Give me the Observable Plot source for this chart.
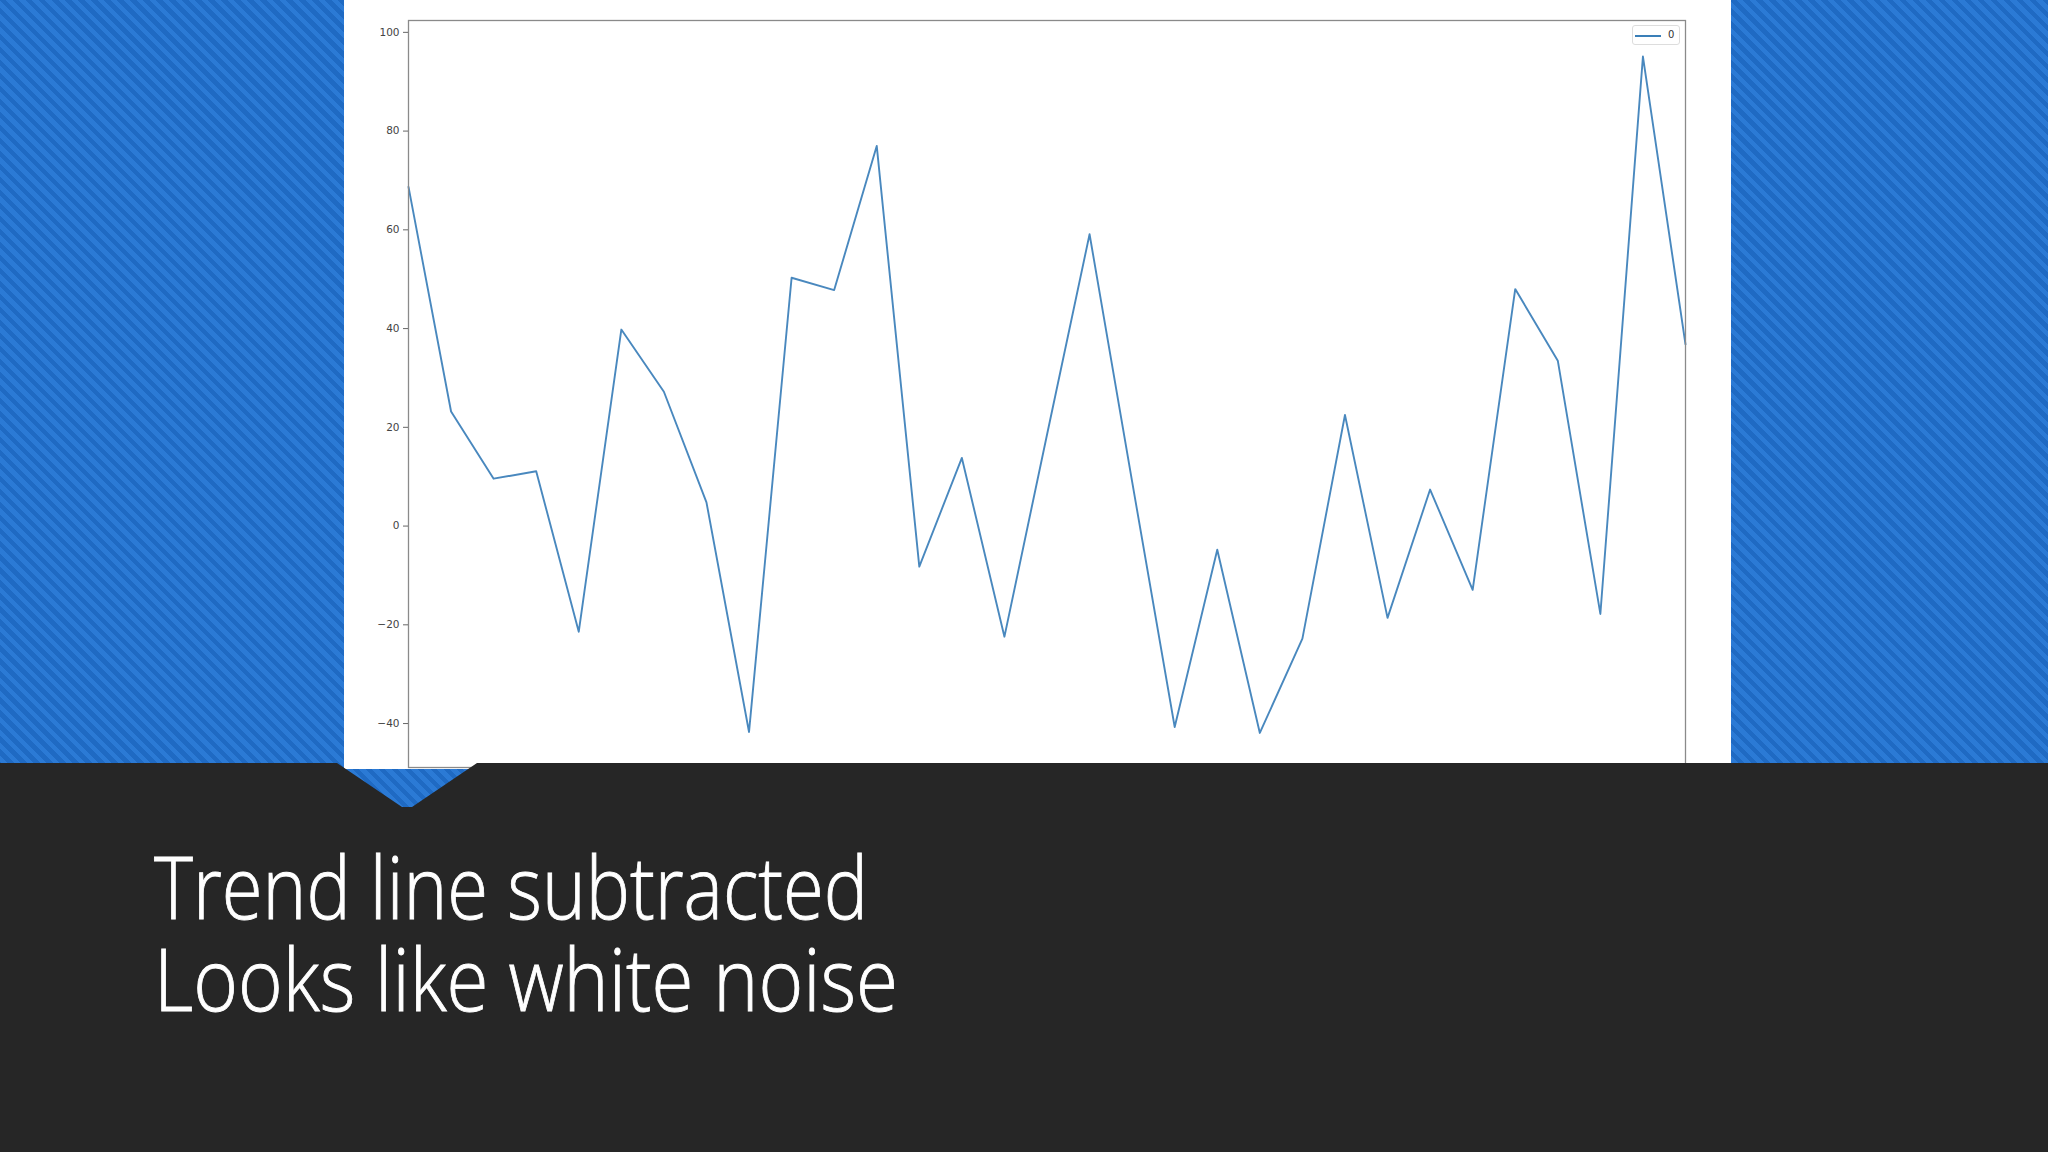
<!DOCTYPE html>
<html>
<head>
<meta charset="utf-8">
<script src="https://cdn.jsdelivr.net/npm/d3@7"></script>
<script src="https://cdn.jsdelivr.net/npm/@observablehq/plot@0.6"></script>
<style>
  html, body { margin: 0; padding: 0; }
  body { width: 2048px; height: 1152px; overflow: hidden; position: relative;
    background: repeating-linear-gradient(45deg, #2b7ad5 0px, #2b7ad5 4.6px, #1f6ac3 4.6px, #1f6ac3 9.2px); }
  #panel { position: absolute; left: 344px; top: 0; width: 1387px; height: 769px; background: #fff; }
  #band { position: absolute; left: 0; top: 0; width: 2048px; height: 1152px; background: #262626;
    clip-path: polygon(0px 763px, 337px 763px, 402px 807px, 412px 807px, 477px 763px, 2048px 763px, 2048px 1152px, 0px 1152px); }
  #legend { position: absolute; left: 1288px; top: 25px; width: 48px; height: 20px; box-sizing: border-box;
    border: 1px solid #ddd; border-radius: 3px; background: #fff; font: 10px "DejaVu Sans", sans-serif; color: #333; }
  #legend .sw { position: absolute; left: 2px; top: 9px; width: 26px; height: 1.8px; background: #3a7fb8; }
  #legend .lb { position: absolute; left: 35px; top: 3px; }
  .tline { position: absolute; left: 154px; white-space: nowrap; color: #fff;
    font-family: "Open Sans", "Noto Sans", sans-serif; font-weight: 300; font-size: 86px; line-height: 92px; height: 92px;
    -webkit-text-stroke: 0.9px #fff; transform-origin: 0 0; }
</style>
</head>
<body>
<div id="panel"></div>
<div id="band"></div>
<script>
// Detrended series (trend line subtracted), 31 observations
const index = d3.range(31);
const values = [68.7, 23.2, 9.6, 11.1, -21.4, 39.8, 27.2, 4.8, -41.7, 50.3, 47.8, 77.0, -8.2, 13.8, -22.4,
                18.5, 59.1, 9.0, -40.7, -4.8, -41.9, -22.8, 22.5, -18.6, 7.4, -12.9, 48.0, 33.5, -17.8, 95.1, 36.8];
const yTicks = [-40, -20, 0, 20, 40, 60, 80, 100];
const seriesName = "0";
const titleLines = ["Trend line subtracted", "Looks like white noise"];

const data = index.map((i) => ({i, v: values[i]}));

const chart = Plot.plot({
  width: 1387,
  height: 769,
  marginLeft: 64,
  marginRight: 46,
  marginTop: 20,
  marginBottom: 2,
  style: {background: "transparent", fontFamily: "DejaVu Sans, sans-serif", fontSize: "10.5px", color: "#444"},
  x: {domain: [0, 30], axis: null},
  y: {domain: [-48.9, 102.4]},
  marks: [
    Plot.line(data, {x: "i", y: "v", stroke: "#3f82bb", strokeWidth: 1.9, strokeOpacity: 0.95}),
    Plot.frame({stroke: "#8a8a8a", strokeWidth: 1.3}),
    Plot.axisY({ticks: yTicks, tickSize: 5, tickPadding: 4, stroke: "#666", fill: "#444", label: null})
  ]
});
const panel = document.getElementById("panel");
panel.appendChild(chart);

const legend = document.createElement("div");
legend.id = "legend";
legend.innerHTML = `<div class="sw"></div><div class="lb"></div>`;
legend.querySelector(".lb").textContent = seriesName;
panel.appendChild(legend);

const widths = [714, 744];
titleLines.forEach((t, k) => {
  const d = document.createElement("div");
  d.className = "tline";
  d.style.top = (840 + k * 92) + "px";
  d.textContent = t;
  document.body.appendChild(d);
  const w = d.getBoundingClientRect().width;
  d.style.transform = `scaleX(${widths[k] / w})`;
});
</script>
</body>
</html>
